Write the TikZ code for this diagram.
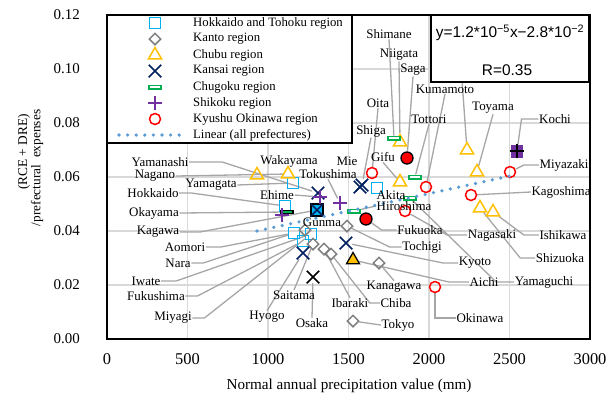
\documentclass[tikz,border=0pt]{standalone}
\usepackage{fontspec}
\setmainfont{Liberation Serif}
\newfontfamily\eqfont{Liberation Sans}
\usetikzlibrary{shapes.geometric, shapes.misc, backgrounds}
\definecolor{tohokucol}{RGB}{0,176,240}
\definecolor{kantocol}{RGB}{128,128,128}
\definecolor{chubucol}{RGB}{255,192,0}
\definecolor{kansaicol}{RGB}{0,32,96}
\definecolor{chugokucol}{RGB}{0,176,80}
\definecolor{shikokucol}{RGB}{112,48,160}
\definecolor{kyushucol}{RGB}{255,0,0}
\definecolor{trendcol}{RGB}{91,155,213}
\definecolor{leadcol}{RGB}{166,166,166}
\definecolor{gridcol}{RGB}{217,217,217}
\pgfdeclarelayer{grid}
\pgfdeclarelayer{leaders}
\pgfsetlayers{grid,leaders,main}
\tikzset{
    mk/.style={inner sep=0, line width=1.5bp},
    tohoku/.style={style=mk, rectangle, draw=tohokucol, minimum size=11bp}, % Hokkaido and Tohoku
    kanto/.style={style=mk, diamond, draw=kantocol, minimum size=12bp},
    chubu/.style={style=mk, regular polygon, regular polygon sides=3, draw=chubucol, minimum size=15bp},
    kansai/.style={style=mk, cross out, draw=kansaicol, minimum size=11bp},
    chugoku/.style={style=mk, rectangle, draw=chugokucol, fill=white, minimum width=12bp, minimum height=3.5bp},
    shikoku/.style={style=mk, cross out, rotate=45, draw=shikokucol, minimum size=8.5bp},
    kyushu/.style={style=mk, circle, draw=kyushucol, minimum size=11bp}, % Kyushu Okinawa
    hl/.style={draw=black, line width=1.3bp}, % highlighted points
    plbl/.style={font=\fontsize{13}{15}\selectfont, inner sep=0.5bp}, % prefecture labels
    lgd/.style={font=\fontsize{12.8}{15}\selectfont, inner sep=0, anchor=west},
    ticklbl/.style={font=\fontsize{15}{17}\selectfont, inner sep=0},
    lead/.style={draw=leadcol, line width=1.3bp},
    gridline/.style={draw=gridcol, line width=1.6bp},
    boxline/.style={draw=black, line width=2bp},
    trend/.style={draw=trendcol, line width=3.6bp, line cap=round, dash pattern=on 0bp off 8.6bp},
    eqtext/.style={font=\eqfont\fontsize{15.5}{18}\selectfont, inner sep=0}
}

\begin{document}
\begin{tikzpicture}[x=1bp, y=-1bp]
  \useasboundingbox (0,0) rectangle (608,397);

  \begin{pgfonlayer}{grid}
    \foreach \i in {1,...,5}
      \draw[gridline] (107+80.5*\i,15) -- (107+80.5*\i,339);
    \foreach \i in {1,...,5}
      \draw[gridline] (107,339-54*\i) -- (590,339-54*\i);
  \end{pgfonlayer}

  \foreach \i/\v in {0/0.00, 1/0.02, 2/0.04, 3/0.06, 4/0.08, 5/0.10, 6/0.12}
    \node[ticklbl, anchor=east] (ytick\i) at (80,339-54*\i) {\v};
  \foreach \i/\v in {0/0, 1/500, 2/1000, 3/1500, 4/2000, 5/2500, 6/3000}
    \node[ticklbl, font=\fontsize{16.5}{18}\selectfont] (xtick\i) at (107+80.5*\i,359) {\v};
  \node[font=\fontsize{15.2}{17}\selectfont] (xtitle) at (349,386) {Normal annual precipitation value (mm)};
  \node[font=\fontsize{13.4}{15}\selectfont, rotate=90] (ytitleA) at (24,152) {(RCE + DRE)};
  \node[font=\fontsize{13.4}{15}\selectfont, rotate=90] (ytitleB) at (37,168) {/prefectural\ \ expenses};

  \node[tohoku] (yamagata) at (293,183) {};
  \node[tohoku] (hokkaido) at (285,206) {};
  \node[tohoku] (akita) at (377,188) {};
  \node[tohoku] (aomori) at (294,233) {};
  \node[tohoku] (iwate) at (311,234) {};
  \node[tohoku] (miyagi) at (303,241) {};
  \node[tohoku, hl, fill=tohokucol, minimum size=12bp] (fukushima) at (317,210) {};

  \node[kanto] (tochigi) at (347,226) {};
  \node[kanto] (gunma) at (305,230) {};
  \node[kanto] (saitama) at (313,244) {};
  \node[kanto] (ibaraki) at (324,249) {};
  \node[kanto] (chiba) at (331,254) {};
  \node[kanto] (kanagawa) at (379,263) {};
  \node[kanto] (tokyo) at (353,321) {};

  \node[chubu] (yamanashi) at (257,175) {};
  \node[chubu] (nagano) at (288,174) {};
  \node[chubu] (niigata) at (400,142) {};
  \node[chubu] (gifu) at (400,182) {};
  \node[chubu] (fukui) at (467,150) {};
  \node[chubu] (toyama) at (477,172) {};
  \node[chubu] (shizuoka) at (480,208) {};
  \node[chubu] (ishikawa) at (493,212) {};
  \node[chubu, hl, fill=chubucol] (aichi) at (353,260) {};

  \node[kansai] (wakayama) at (318,193) {};
  \node[kansai] (mie) at (360,187) {};
  \node[kansai] (shiga) at (362,185) {};
  \node[kansai] (nara) at (317,210) {};
  \node[kansai] (kyoto) at (346,243) {};
  \node[kansai] (hyogo) at (303,253) {};
  \node[kansai, draw=black] (osaka) at (313,277) {};

  \node[chugoku] (shimane) at (394,138) {};
  \node[chugoku] (tottori) at (415,177) {};
  \node[chugoku] (yamaguchi) at (410,198) {};
  \node[chugoku] (hiroshima) at (354,211) {};
  \node[chugoku, hl, fill=chugokucol] (okayama) at (287,212) {};

  \node[shikoku] (tokushima) at (340,203) {};
  \node[shikoku] (ehime) at (320,197) {};
  \node[shikoku] (kagawa) at (282,215) {};
  \node[rectangle, fill=shikokucol, minimum width=12bp, minimum height=13bp] (kochi) at (517,151) {};
  \node[shikoku, draw=black] (kochiplus) at (kochi) {};

  \node[kyushu] (oita) at (372,173) {};
  \node[kyushu, hl, fill=kyushucol, minimum size=12bp] (saga) at (407,158) {};
  \node[kyushu] (kumamoto) at (426,187) {};
  \node[kyushu] (nagasaki) at (405,211) {};
  \node[kyushu, hl, fill=kyushucol, minimum size=12bp] (fukuoka) at (366,219) {};
  \node[kyushu] (kagoshima) at (471,195) {};
  \node[kyushu] (miyazaki) at (510,172) {};
  \node[kyushu] (okinawa) at (435,287) {};

  \coordinate (trendA) at (257,231);
  \coordinate (trendB) at (510,176);
  \draw[trend] (trendA) -- (trendB);

  \node[plbl] (shimaneL) at (389,34) {Shimane};
  \node[plbl] (niigataL) at (399,55) {Niigata};
  \node[plbl] (sagaL) at (413,70) {Saga};
  \node[plbl] (kumamotoL) at (445,89) {Kumamoto};
  \node[plbl] (oitaL) at (378,103) {Oita};
  \node[plbl] (toyamaL) at (493,108) {Toyama};
  \node[plbl] (tottoriL) at (429,119) {Tottori};
  \node[plbl] (kochiL) at (555,119) {Kochi};
  \node[plbl] (shigaL) at (371,131) {Shiga};
  \node[plbl] (yamanashiL) at (160,162) {Yamanashi};
  \node[plbl] (wakayamaL) at (289,161) {Wakayama};
  \node[plbl] (mieL) at (347,161) {Mie};
  \node[plbl] (gifuL) at (383,157) {Gifu};
  \node[plbl] (miyazakiL) at (564,165) {Miyazaki};
  \node[plbl] (naganoL) at (155,176) {Nagano};
  \node[plbl] (tokushimaL) at (328,174) {Tokushima};
  \node[plbl] (yamagataL) at (211,185) {Yamagata};
  \node[plbl] (hokkaidoL) at (153,193) {Hokkaido};
  \node[plbl] (kagoshimaL) at (561,192) {Kagoshima};
  \node[plbl] (akitaL) at (391,195) {Akita};
  \node[plbl] (ehimeL) at (277,195) {Ehime};
  \node[plbl] (hiroshimaL) at (404,206) {Hiroshima};
  \node[plbl] (okayamaL) at (154,213) {Okayama};
  \node[plbl] (gunmaL) at (322,222) {Gunma};
  \node[plbl] (fukuokaL) at (420,230) {Fukuoka};
  \node[plbl] (kagawaL) at (158,232) {Kagawa};
  \node[plbl] (nagasakiL) at (492,235) {Nagasaki};
  \node[plbl] (ishikawaL) at (563,235) {Ishikawa};
  \node[plbl] (aomoriL) at (185,247) {Aomori};
  \node[plbl] (tochigiL) at (422,247) {Tochigi};
  \node[plbl] (naraL) at (178,263) {Nara};
  \node[plbl] (kyotoL) at (475,263) {Kyoto};
  \node[plbl] (shizuokaL) at (560,258) {Shizuoka};
  \node[plbl] (iwateL) at (146,281) {Iwate};
  \node[plbl] (aichiL) at (484,282) {Aichi};
  \node[plbl] (yamaguchiL) at (544,282) {Yamaguchi};
  \node[plbl] (kanagawaL) at (394,287) {Kanagawa};
  \node[plbl] (saitamaL) at (294,295) {Saitama};
  \node[plbl] (fukushimaL) at (156,296) {Fukushima};
  \node[plbl] (ibarakiL) at (350,303) {Ibaraki};
  \node[plbl] (chibaL) at (396,303) {Chiba};
  \node[plbl] (hyogoL) at (267,317) {Hyogo};
  \node[plbl] (miyagiL) at (173,318) {Miyagi};
  \node[plbl] (okinawaL) at (480,318) {Okinawa};
  \node[plbl] (osakaL) at (312,323) {Osaka};
  \node[plbl] (tokyoL) at (398,325) {Tokyo};

  \coordinate (fukuiend) at (462,80);
  \begin{pgfonlayer}{leaders}
    \draw[lead] (shimaneL.south) -- (shimane);
    \draw[lead] (niigataL.south) -- (niigata);
    \draw[lead] (sagaL.south) -- (saga);
    \draw[lead] (kumamotoL.south) -- (kumamoto);
    \draw[lead] (oitaL.south) -- (oita);
    \draw[lead] (toyamaL.south) -- (toyama);
    \draw[lead] (tottoriL.south) -- (tottori);
    \draw[lead] (kochiL.west) -- ++(-17,0) -- (kochi);
    \draw[lead] (shigaL.south) -- (shiga);
    \draw[lead] (fukuiend) -- (fukui);
    \draw[lead] (yamanashiL.east) -- ++(33,0) -- (wakayama);
    \draw[lead] (naganoL.east) -- (nagano);
    \draw[lead] (gifuL.south) -- (gifu);
    \draw[lead] (miyazakiL.west) -- ++(-15,0) -- (miyazaki);
    \draw[lead] (tokushimaL.south) -- (tokushima);
    \draw[lead] (yamagataL.east) -- (yamagata);
    \draw[lead] (hokkaidoL.east) -- ++(12,0) -- (hokkaido);
    \draw[lead] (kagoshimaL.west) -- (kagoshima);
    \draw[lead] (ehimeL.east) -- (ehime);
    \draw[lead] (hiroshimaL.west) -- (hiroshima);
    \draw[lead] (okayamaL.east) -- (okayama);
    \draw[lead] (fukuokaL.west) -- ++(-15,0) -- (fukuoka);
    \draw[lead] (kagawaL.east) -- ++(20,0) -- (fukushima);
    \draw[lead] (nagasakiL.west) -- ++(-20,0) -- (nagasaki);
    \draw[lead] (ishikawaL.west) -- ++(-15,0) -- (ishikawa);
    \draw[lead] (aomoriL.east) -- ++(15,0) -- (aomori);
    \draw[lead] (tochigiL.west) -- ++(-12,0) -- (tochigi);
    \draw[lead] (naraL.east) -- ++(12,0) -- (aomori);
    \draw[lead] (iwateL.east) -- ++(15,0) -- (iwate);
    \draw[lead] (fukushimaL.east) -- ++(12,0) -- (miyagi);
    \draw[lead] (miyagiL.east) -- ++(12,0) -- (iwate);
    \draw[lead] (kyotoL.west) -- ++(-15,0) -- (kyoto);
    \draw[lead] (shizuokaL.west) -- ++(-15,0) -- (shizuoka);
    \draw[lead] (aichiL.west) -- ++(-20,0) -- (aichi);
    \draw[lead] (yamaguchiL.west) -- ++(-18,0) -- (yamaguchi);
    \draw[lead] (kanagawaL.north) -- (kanagawa);
    \draw[lead] (saitamaL.north) -- (saitama);
    \draw[lead] (ibarakiL.north) -- (ibaraki);
    \draw[lead] (chibaL.west) -- ++(-10,0) -- (chiba);
    \draw[lead] (hyogoL.north) -- (hyogo);
    \draw[lead] (osakaL.north) -- (osaka);
    \draw[lead] (okinawaL.west) -- (okinawa |- okinawaL.west) -- (okinawa);
    \draw[lead] (tokyoL.west) -- (tokyo);
  \end{pgfonlayer}

  \draw[boxline] (107,15) rectangle (590,339);

  \draw[boxline, fill=white] (107,15) rectangle (352,143);
  \foreach \reg/\txt [count=\k from 0] in {tohoku/Hokkaido and Tohoku region, kanto/Kanto region,
      chubu/Chubu region, kansai/Kansai region, chugoku/Chugoku region,
      shikoku/Shikoku region, kyushu/Kyushu Okinawa region} {
    \node[\reg] (key\reg) at (155,23+16*\k) {};
    \node[lgd] (txt\reg) at (193,23+16*\k) {\txt};
  }
  \coordinate (keyA) at (119,135);
  \coordinate (keyB) at (181,135);
  \draw[trend] (keyA) -- (keyB);
  \node[lgd] (txtlinear) at (193,135) {Linear (all prefectures)};

  \draw[boxline, fill=white] (431,15) rectangle (589,82);
  \node[eqtext] (eqline) at (510,33) {y=1.2*10\textsuperscript{−5}x−2.8*10\textsuperscript{−2}};
  \node[eqtext] (rline) at (507,70) {R=0.35};
\end{tikzpicture}
\end{document}
